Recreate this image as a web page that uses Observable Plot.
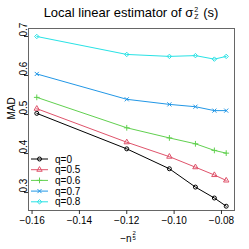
<!DOCTYPE html>
<html><head><meta charset="utf-8">
<script src="https://cdn.jsdelivr.net/npm/d3@7"></script>
<script src="https://cdn.jsdelivr.net/npm/@observablehq/plot@0.6"></script>
<style>
  html,body{margin:0;padding:0;background:#fff;}
  body{width:249px;height:249px;overflow:hidden;font-family:"Liberation Sans",Arial,sans-serif;}
  #title{height:26px;position:relative;}
  #title span.t{position:absolute;left:131px;top:5px;transform:translateX(-50%);white-space:nowrap;font-size:13px;color:#000;}
  .stack{display:inline-block;vertical-align:middle;line-height:1;font-size:7px;text-align:left;position:relative;top:-1px;margin-left:1px;margin-right:1px;}
  .stack span{display:block;height:7px;}
  #xlab{height:17px;position:relative;}
  #xlab span.t{position:absolute;left:128px;top:1px;transform:translateX(-50%);white-space:nowrap;font-size:10px;}
  .stack2{display:inline-block;vertical-align:top;line-height:1;font-size:6px;text-align:center;position:relative;top:-3px;margin-left:1px;}
  .stack2 span{display:block;height:5px;}
</style>
</head><body>
<div id="title"><span class="t">Local linear estimator of σ<span class="stack"><span>2</span><span>Z</span></span> (s)</span></div>
<div id="chart"></div>
<div id="xlab"><span class="t">−n<span class="stack2"><span>2</span><span>5</span></span></span></div>
<script>
const xValues = [-0.158, -0.120, -0.102, -0.091, -0.083, -0.078];
const seriesNames = ["q=0", "q=0.5", "q=0.6", "q=0.7", "q=0.8"];
const q0  = [0.503, 0.412, 0.361, 0.314, 0.286, 0.265];
const q05 = [0.515, 0.429, 0.392, 0.365, 0.345, 0.331];
const q06 = [0.544, 0.466, 0.440, 0.425, 0.408, 0.401];
const q07 = [0.604, 0.539, 0.526, 0.520, 0.510, 0.510];
const q08 = [0.700, 0.654, 0.649, 0.651, 0.642, 0.649];
const xTicks = [-0.16, -0.14, -0.12, -0.10, -0.08];
const yTicks = [0.3, 0.4, 0.5, 0.6, 0.7];

const colors = ["#000000", "#DF536B", "#61D04F", "#2297E6", "#28E2E5"];
const symbols = ["circle", "triangle", "plus", "times", "diamond2"];
const seriesValues = [q0, q05, q06, q07, q08];

const data = [];
seriesNames.forEach((name, i) => {
  seriesValues[i].forEach((v, j) => data.push({series: name, x: xValues[j], y: v}));
});

const W = 249, H = 206;
const mL = 28, mR = 15, mT = 2, mB = 22;
const R = 2;

const chart = Plot.plot({
  width: W, height: H,
  marginLeft: mL, marginRight: mR, marginTop: mT, marginBottom: mB,
  style: {fontFamily: '"Liberation Sans", Arial, sans-serif', fontSize: "10px", background: "#fff", overflow: "visible"},
  x: {domain: [-0.1615, -0.0745]},
  y: {domain: [0.254, 0.7205]},
  color: {domain: seriesNames, range: colors},
  symbol: {domain: seriesNames, range: symbols},
  marks: [
    Plot.frame({stroke: "#666", strokeWidth: 1}),
    Plot.axisX({ticks: xTicks, tickSize: 4, tickPadding: 2, tickFormat: d3.format(".2f"), fontSize: 10, label: null, stroke: "#333"}),
    Plot.axisY({ticks: yTicks, tickSize: 4, tickFormat: () => "", label: null, stroke: "#333"}),
    Plot.text(yTicks, {y: d => d, frameAnchor: "left", dx: -5, rotate: -90, text: d => d3.format(".1f")(d), fontSize: 10, fill: "#000"}),
    Plot.text(["MAD"], {frameAnchor: "left", dx: -17, rotate: -90, text: d => d, fontSize: 10, fill: "#000"}),
    Plot.line(data, {x: "x", y: "y", z: "series", stroke: "series", strokeWidth: 1}),
    Plot.dot(data, {x: "x", y: "y", stroke: "series", symbol: "series", r: R, fill: "none", strokeWidth: 1})
  ]
});
document.getElementById("chart").appendChild(chart);

// legend
const svg = d3.select(chart);
const leg = svg.append("g").attr("font-family", '"Liberation Sans", Arial, sans-serif').attr("font-size", 10).attr("text-anchor", "start");
const symMap = {circle: d3.symbolCircle, triangle: d3.symbolTriangle, plus: d3.symbolPlus, times: d3.symbolTimes, diamond2: d3.symbolDiamond2};
const legTop = 133, legStep = 10.7;
seriesNames.forEach((name, i) => {
  const y = legTop + i * legStep;
  const g = leg.append("g").attr("transform", `translate(0,${y})`);
  g.append("line").attr("x1", 31).attr("x2", 48).attr("y1", 0).attr("y2", 0).attr("stroke", colors[i]).attr("stroke-width", 1);
  g.append("path").attr("d", d3.symbol(symMap[symbols[i]], Math.PI * R * R)()).attr("transform", "translate(39.5,0)")
    .attr("fill", "none").attr("stroke", colors[i]).attr("stroke-width", 1);
  g.append("text").attr("x", 55).attr("y", 0).attr("dy", "0.35em").attr("text-anchor", "start").text(name);
});
</script>
</body></html>
